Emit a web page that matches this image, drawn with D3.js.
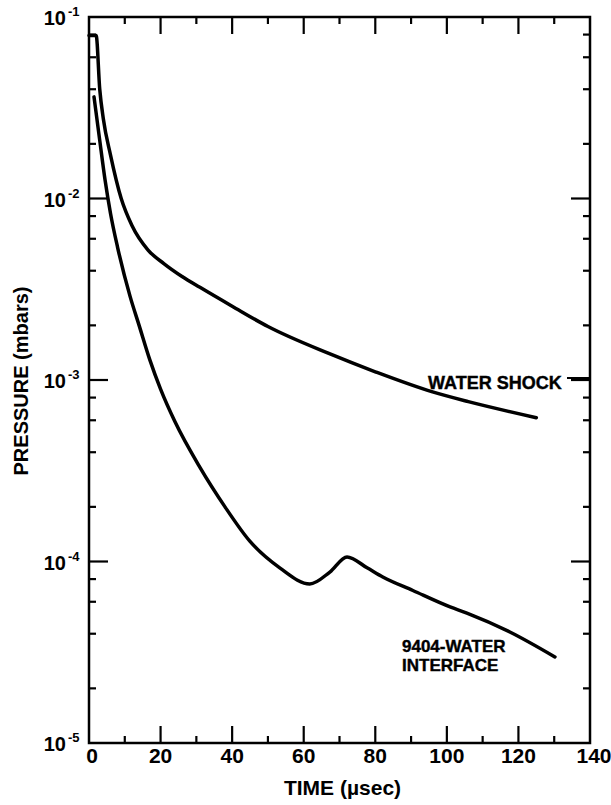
<!DOCTYPE html>
<html>
<head>
<meta charset="utf-8">
<script src="https://cdn.jsdelivr.net/npm/d3@7"></script>
<style>
  html, body { margin: 0; padding: 0; background: #fff; }
  svg { display: block; }
  text { font-family: "Liberation Sans", Arial, sans-serif; font-weight: bold; fill: #000; }
</style>
</head>
<body>
<svg id="chart" width="611" height="805"></svg>
<script>
// ---- data ----
const waterTime = [0, 2, 3, 4, 6, 9, 12, 16.5, 21, 26, 31, 40, 50, 67, 80, 96, 106, 125];
const waterP    = [0.079, 0.079, 0.040, 0.0275, 0.0174, 0.0100, 0.0071, 0.0052, 0.00437, 0.00372, 0.00324, 0.00255, 0.00197, 0.0014, 0.00111, 0.00086, 0.00076, 0.00062];

const ifaceTime = [1.4, 3, 4.5, 6, 8, 11.5, 14, 17, 20, 24, 31, 38, 45, 53.4, 61.7, 67.3, 72.1, 77.7, 82.1, 90.5, 100.9, 105.6, 117.6, 130.2];
const ifaceP    = [0.0363, 0.0209, 0.0126, 0.0083, 0.00537, 0.00288, 0.00200, 0.00129, 0.00089, 0.00059, 0.00033, 0.00020, 0.000129, 0.000092, 0.0000752, 0.0000875, 0.000106, 0.0000923, 0.0000822, 0.0000692, 0.0000562, 0.0000520, 0.0000409, 0.0000298];

const xMajorTicks = [0, 20, 40, 60, 80, 100, 120, 140];
const xMinorTicks = [10, 30, 50, 70, 90, 110, 130];
const yMajorTicks = [1e-1, 1e-2, 1e-3, 1e-4, 1e-5];
const yExponents  = ["-1", "-2", "-3", "-4", "-5"];
const yMinorMults = [2, 4, 6, 8];

const seriesLabels = { water: ["WATER SHOCK"], iface: ["9404-WATER", "INTERFACE"] };
const xTitle = "TIME (\u00B5sec)";
const yTitle = "PRESSURE (mbars)";

// ---- layout ----
const L = 89, R = 590, T = 17, B = 743;
const svg = d3.select("#chart");
const x = d3.scaleLinear().domain([0, 140]).range([L, R]);
const y = d3.scaleLog().domain([1e-5, 1e-1]).range([B, T]);

const yMinorTicks = [];
[1e-5, 1e-4, 1e-3, 1e-2].forEach(d => yMinorMults.forEach(m => yMinorTicks.push(d * m)));

// frame
svg.append("rect").attr("x", L).attr("y", T).attr("width", R - L).attr("height", B - T)
  .attr("fill", "none").attr("stroke", "#000").attr("stroke-width", 2.5);

// ticks, all pointing inward
const xInner = xMajorTicks.slice(1, -1);
const yInner = yMajorTicks.slice(1, -1);
const tickSegs = [];
[[xInner, 17], [xMinorTicks, 7]].forEach(([vals, len]) => vals.forEach(v => {
  tickSegs.push({ x1: x(v), x2: x(v), y1: B, y2: B - len });
  tickSegs.push({ x1: x(v), x2: x(v), y1: T, y2: T + len });
}));
[[yInner, 19], [yMinorTicks, 7]].forEach(([vals, len]) => vals.forEach(v => {
  tickSegs.push({ x1: L, x2: L + len, y1: y(v), y2: y(v) });
  tickSegs.push({ x1: R, x2: R - len, y1: y(v), y2: y(v) });
}));
svg.append("g").selectAll("line").data(tickSegs).join("line")
  .attr("x1", d => d.x1).attr("x2", d => d.x2).attr("y1", d => d.y1).attr("y2", d => d.y2)
  .attr("stroke", "#000").attr("stroke-width", 2.2);

// x tick labels
svg.append("g").selectAll("text").data(xMajorTicks).join("text")
  .attr("x", d => x(d) + (d === 0 ? 3 : d === 140 ? 4 : 0))
  .attr("y", B + 20)
  .attr("text-anchor", "middle")
  .attr("font-size", 21)
  .text(d => d);

// y tick labels with superscripts
svg.append("g").selectAll("text").data(yMajorTicks).join("text")
  .attr("x", 66)
  .attr("y", d => y(d) + 8)
  .attr("text-anchor", "end")
  .attr("font-size", 20)
  .text("10");
svg.append("g").selectAll("text").data(yMajorTicks).join("text")
  .attr("x", 68)
  .attr("y", d => y(d) - 1)
  .attr("font-size", 13)
  .text((d, i) => yExponents[i]);

// curves
const line = d3.line().x(d => x(d[0])).y(d => y(d[1])).curve(d3.curveMonotoneX);
const waterData = waterTime.map((t, i) => [t, waterP[i]]);
const ifaceData = ifaceTime.map((t, i) => [t, ifaceP[i]]);
[waterData, ifaceData].forEach(d => {
  svg.append("path").datum(d).attr("d", line)
    .attr("fill", "none").attr("stroke", "#000").attr("stroke-width", 3.5)
    .attr("stroke-linejoin", "round").attr("stroke-linecap", "round");
});

// series labels
svg.append("text").attr("x", 428).attr("y", 389).attr("font-size", 18)
  .attr("stroke", "#000").attr("stroke-width", 0.4).text(seriesLabels.water[0]);
svg.append("line").attr("x1", 567).attr("x2", R).attr("y1", 378).attr("y2", 378)
  .attr("stroke", "#000").attr("stroke-width", 2);
svg.append("g").selectAll("text").data(seriesLabels.iface).join("text")
  .attr("x", 402).attr("y", (d, i) => 652 + i * 19).attr("font-size", 17)
  .attr("stroke", "#000").attr("stroke-width", 0.4).text(d => d);

// axis titles
svg.append("text").attr("x", (L + R) / 2 + 3).attr("y", 795).attr("text-anchor", "middle")
  .attr("font-size", 21).text(xTitle);
svg.append("text").attr("transform", `translate(28,381) rotate(-90)`).attr("text-anchor", "middle")
  .attr("font-size", 20).text(yTitle);
</script>
</body>
</html>
